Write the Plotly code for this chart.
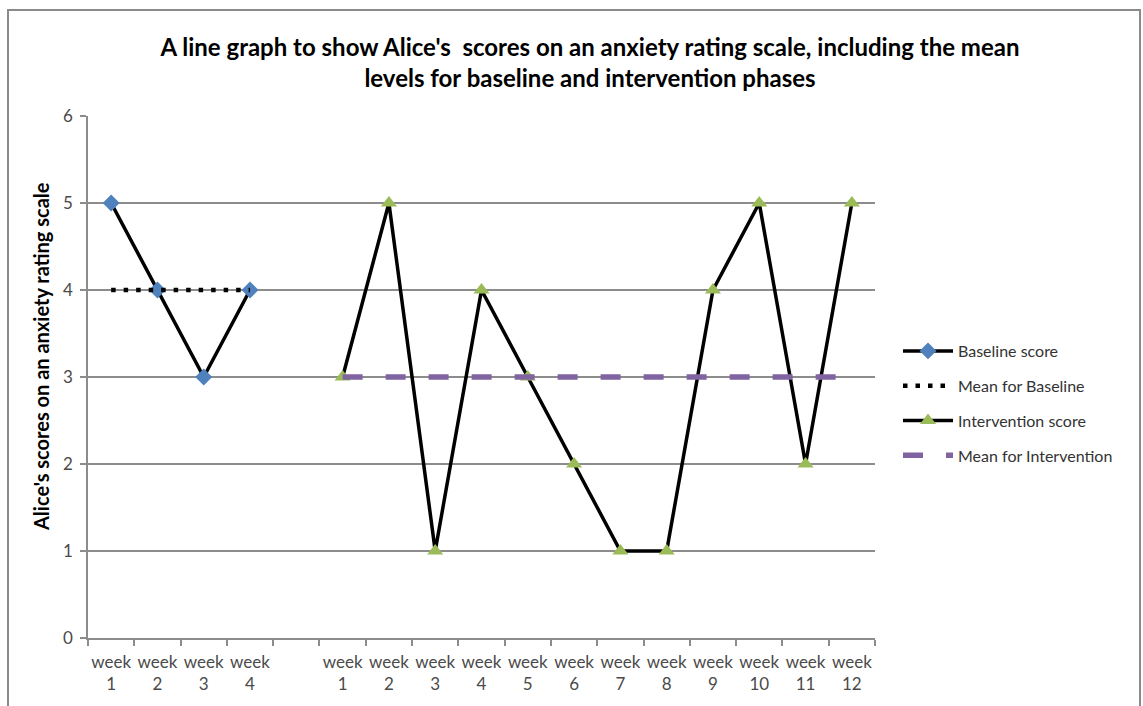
import numpy as np
import plotly.graph_objects as go

# Weekly anxiety scores for the two phases
baseline_weeks = ["week<br>1", "week<br>2", "week<br>3", "week<br>4"]
baseline_scores = [5, 4, 3, 4]

intervention_weeks = ["week<br>%d" % i for i in range(1, 13)]
intervention_scores = [3, 5, 1, 4, 3, 2, 1, 1, 4, 5, 2, 5]

y_ticks = [0, 1, 2, 3, 4, 5, 6]

# Category slots: baseline weeks, one empty slot, then intervention weeks
base_x = list(range(len(baseline_weeks)))
gap = 1
int_x = [len(baseline_weeks) + gap + i for i in range(len(intervention_weeks))]
n_slots = len(baseline_weeks) + gap + len(intervention_weeks)

base_mean = float(np.mean(baseline_scores))
int_mean = float(np.mean(intervention_scores))

FONT = "Lato, 'Open Sans', sans-serif"
GRID = "#8c8c8c"
TICK_COLOR = "#4a4a4a"

fig = go.Figure()

fig.add_trace(go.Scatter(
    x=base_x, y=baseline_scores, mode="lines+markers", name="Baseline score",
    line=dict(color="black", width=3.5),
    marker=dict(symbol="diamond", size=13, color="#4F81BD"),
    legendgroup="a",
))
fig.add_trace(go.Scatter(
    x=base_x, y=[base_mean] * len(base_x), mode="lines", name="Mean for Baseline",
    line=dict(color="black", width=4.5, dash="4.5px,8px"),
    legendgroup="b",
))
fig.add_trace(go.Scatter(
    x=int_x, y=intervention_scores, mode="lines+markers", name="Intervention score",
    line=dict(color="black", width=3.5),
    marker=dict(symbol="triangle-up", size=14, color="#9BBB59"),
    legendgroup="c",
))
fig.add_trace(go.Scatter(
    x=int_x, y=[int_mean] * len(int_x), mode="lines", name="Mean for Intervention",
    line=dict(color="#8064A2", width=5.5, dash="20px,23px"),
    legendgroup="d",
))

L, R, T, B = 88, 268, 116, 68
W, H = 1143, 706
pw, ph = W - L - R, H - T - B

def px_x(p):
    return (p - L) / pw

def px_y(p):
    return (H - B - p) / ph

fig.update_layout(
    width=W, height=H,
    margin=dict(l=L, r=R, t=T, b=B, autoexpand=False),
    paper_bgcolor="white", plot_bgcolor="white",
    font=dict(family=FONT, color=TICK_COLOR, size=16),
    title=dict(
        text="A line graph to show Alice's  scores on an anxiety rating scale, including the mean<br>levels for baseline and intervention phases",
        x=590 / W, xanchor="center", xref="container",
        y=1 - 56 / H, yanchor="middle", yref="container",
        font=dict(family=FONT, size=24, color="black", weight="bold"),
    ),
    showlegend=True,
    legend=dict(
        x=px_x(898), xanchor="left", y=px_y(334), yanchor="top",
        font=dict(family=FONT, size=16, color="#333333"),
        tracegroupgap=11, itemwidth=50, bgcolor="rgba(0,0,0,0)",
    ),
    xaxis=dict(
        range=[-0.5, n_slots - 0.5],
        tickvals=base_x + int_x,
        ticktext=baseline_weeks + intervention_weeks,
        ticks="", showgrid=False, zeroline=False,
        showline=True, linecolor=GRID, linewidth=1.5,
        tickfont=dict(family=FONT, size=17, color=TICK_COLOR),
        ticklabelstandoff=8,
        minor=dict(tick0=-0.5, dtick=1, ticks="outside", ticklen=6,
                   tickcolor=GRID, tickwidth=1.5, showgrid=False),
        fixedrange=True,
    ),
    yaxis=dict(
        range=[0, 6], tickvals=y_ticks,
        ticks="outside", ticklen=6, tickcolor=GRID, tickwidth=1.5,
        showgrid=True, gridcolor=GRID, gridwidth=1.5,
        zeroline=False, showline=True, linecolor=GRID, linewidth=1.5,
        tickfont=dict(family=FONT, size=17, color=TICK_COLOR),
        ticklabelstandoff=4,
        fixedrange=True,
    ),
    annotations=[dict(
        text="Alice's scores on an anxiety rating scale",
        xref="paper", yref="paper", x=px_x(41), y=px_y(357),
        xanchor="center", yanchor="middle", textangle=-90, showarrow=False,
        font=dict(family=FONT, size=20, color="black", weight="bold"),
    )],
    shapes=[dict(
        type="rect", xref="paper", yref="paper",
        x0=px_x(8), x1=px_x(1140), y0=px_y(720), y1=px_y(10),
        line=dict(color="#8a8a8a", width=2), fillcolor="rgba(0,0,0,0)",
        layer="below",
    )],
)

fig.write_html("out.html")
